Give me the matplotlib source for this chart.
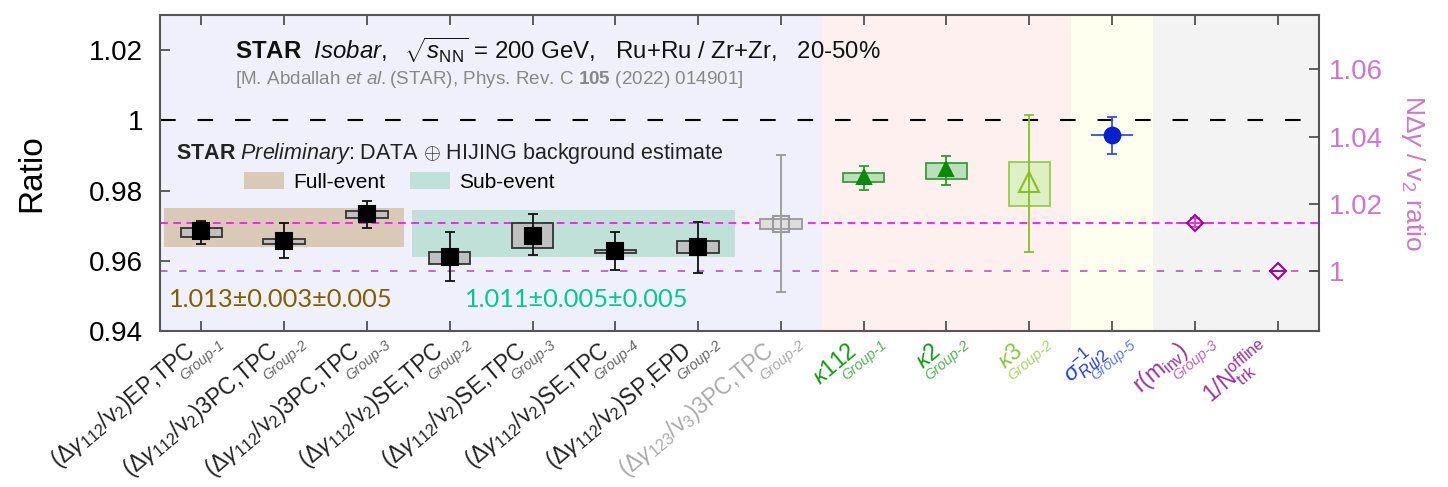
import matplotlib

matplotlib.use("Agg")
import matplotlib.pyplot as plt  # noqa: E402
import matplotlib.transforms as mtransforms  # noqa: E402
import numpy as np  # noqa: E402
from matplotlib.patches import Patch  # noqa: E402

plt.rcParams["font.family"] = ["Liberation Sans", "DejaVu Sans"]
plt.rcParams["mathtext.fontset"] = "custom"
plt.rcParams["mathtext.rm"] = "Liberation Sans"
plt.rcParams["mathtext.it"] = "Liberation Sans:italic"
plt.rcParams["mathtext.bf"] = "Liberation Sans:bold"

# ---- data ----
labels = [
    r"$(\Delta\gamma_{112}/\mathrm{v}_2)$EP,TPC",
    r"$(\Delta\gamma_{112}/\mathrm{v}_2)$3PC,TPC",
    r"$(\Delta\gamma_{112}/\mathrm{v}_2)$3PC,TPC",
    r"$(\Delta\gamma_{112}/\mathrm{v}_2)$SE,TPC",
    r"$(\Delta\gamma_{112}/\mathrm{v}_2)$SE,TPC",
    r"$(\Delta\gamma_{112}/\mathrm{v}_2)$SE,TPC",
    r"$(\Delta\gamma_{112}/\mathrm{v}_2)$SP,EPD",
    r"$(\Delta\gamma_{123}/\mathrm{v}_3)$3PC,TPC",
    r"$\kappa$112",
    r"$\kappa$2",
    r"$\kappa$3",
    r"$\sigma^{-1}_{R\psi2}$",
    r"r(m$_{\mathrm{inv}}$)",
    r"1/N$^{\mathrm{offline}}_{\mathrm{trk}}$",
]
groups = ["Group-1", "Group-2", "Group-3", "Group-2", "Group-3", "Group-4", "Group-2",
          "Group-2", "Group-1", "Group-2", "Group-2", "Group-5", "Group-3", ""]

ratio = [0.9684, 0.9657, 0.9733, 0.9610, 0.9672, 0.9627, 0.9638,
         0.9706, 0.9840, 0.9862, 0.9824, 0.9957, 0.9709, 0.9571]
err_hi = [0.9714, 0.9709, 0.9771, 0.9681, 0.9732, 0.9683, 0.9711,
          0.9900, 0.9870, 0.9898, 1.0016, 1.0010, 0.9722, 0.9571]
err_lo = [0.9649, 0.9607, 0.9692, 0.9543, 0.9616, 0.9573, 0.9566,
          0.9511, 0.9803, 0.9817, 0.9626, 0.9905, 0.9696, 0.9571]
x_half = [0, 0, 0, 0, 0, 0, 0, 0, 0, 0, 0, 0.25, 0.23, 0.1]
# systematic boxes (first 11 points)
sys_lo = [0.9669, 0.9648, 0.9722, 0.9590, 0.9637, 0.9623, 0.9622, 0.9690, 0.9824, 0.9833, 0.9757]
sys_hi = [0.9693, 0.9663, 0.9741, 0.9624, 0.9708, 0.9631, 0.9655, 0.9719, 0.9849, 0.9878, 0.9880]

# combined bands
band_x0 = [-0.45, 2.55]
band_x1 = [2.45, 6.45]
band_lo = [0.9639, 0.9611]
band_hi = [0.9750, 0.9744]
band_names = ["Full-event", "Sub-event"]
band_text = ["1.013\u00b10.003\u00b10.005", "1.011\u00b10.005\u00b10.005"]
band_text_x = [-0.39, 3.18]

region_edges = [-0.5, 7.5, 10.5, 11.5, 13.5]
ref_lines = [0.9709, 0.9571]   # N-dgamma/v2 ratio: r(minv) and unity
right_scale = 0.9571

# ---- styles ----
region_colors = ["#f0f0fc", "#fff0f0", "#fffff0", "#f3f3f3"]
band_colors = ["#dbc9b8", "#c0e1d8"]
band_text_colors = ["#7f5f00", "#00c892"]
main_col = ["#222222"] * 7 + ["#aaaaaa", "#119911", "#119911", "#8cc63f", "#1f3cd6", "#993399", "#993399"]
grp_col = ["#666666"] * 7 + ["#aaaaaa", "#55b455", "#55b455", "#a8d46a", "#5f78e6", "#bb66bb", "#bb66bb"]
mk = ["s"] * 8 + ["^", "^", "^", "o", "D", "D"]
mk_size = [11.3] * 7 + [12, 10.5, 10.5, 14, 11.3, 8.5, 8.5]
mk_face = ["black"] * 7 + ["none", "#0a8a0a", "#0a8a0a", "none", "#0a1fd0", "none", "none"]
mk_edge = ["black"] * 7 + ["#999999", "#0a8a0a", "#0a8a0a", "#88c020", "#0a1fd0", "#990099", "#990099"]
err_col = ["#111111"] * 7 + ["#999999", "#2a9a2a", "#2a9a2a", "#88c020", "#3050e0", "#dd33dd", "#990099"]
box_face = ["#c0c0c0"] * 7 + ["#dedede", "#b9e0b9", "#b9e0b9", "#ddefc4"]
box_edge = ["#333333"] * 7 + ["#999999", "#3a9a3a", "#3a9a3a", "#99cc44"]

fig = plt.figure(figsize=(14.48, 4.87), dpi=100)
ax = fig.add_axes([0.1105, 0.3203, 0.8004, 0.6489])
x = np.arange(len(labels))

for i, c in enumerate(region_colors):
    ax.axvspan(region_edges[i], region_edges[i + 1], color=c, lw=0, zorder=0)

for i in range(len(band_names)):
    ax.fill_between([band_x0[i], band_x1[i]], band_lo[i], band_hi[i],
                    color=band_colors[i], lw=0, zorder=1)

ax.axhline(1.0, color="black", lw=1.5, ls=(0, (7.5, 10.5)), zorder=2)
ax.axhline(ref_lines[0], color="#ff22ff", lw=1.4, ls=(0, (4, 2.8)), zorder=2)
ax.axhline(ref_lines[1], color="#bb55bb", lw=1.2, ls=(0, (4.5, 7)), zorder=2)

nb = len(sys_lo)
ax.bar(x[:nb], np.array(sys_hi) - np.array(sys_lo), bottom=sys_lo, width=0.5,
       color=box_face, edgecolor=box_edge, lw=1.3, zorder=3)

for i in range(len(labels)):
    if err_hi[i] > err_lo[i]:
        yerr = [[ratio[i] - err_lo[i]], [err_hi[i] - ratio[i]]]
        ax.errorbar(x[i], ratio[i], yerr=yerr, fmt="none", ecolor=err_col[i],
                    elinewidth=1.3, capsize=3.5, capthick=1.3, zorder=4)
    if x_half[i]:
        ax.errorbar(x[i], ratio[i], xerr=x_half[i], fmt="none", ecolor=err_col[i],
                    elinewidth=1.3, capsize=0, zorder=4)
    ax.plot(x[i], ratio[i], marker=mk[i], ms=mk_size[i], mfc=mk_face[i], mec=mk_edge[i],
            mew=1.5, ls="none", zorder=5)

ax.set_xlim(-0.5, 13.5)
ax.set_ylim(0.94, 1.03)
ax.set_yticks([0.94, 0.96, 0.98, 1.0, 1.02])
ax.set_yticklabels(["0.94", "0.96", "0.98", "1", "1.02"])
ax.set_xticks(x)
ax.set_xticklabels([])
ax.tick_params(direction="in", length=7, width=1.2, top=True, labelsize=20, pad=12,
               color="#444444")
ax.set_ylabel("Ratio", fontsize=24, labelpad=30)
for s in ax.spines.values():
    s.set_color("#555555")
    s.set_linewidth(1.5)

ax2 = ax.twinx()
ax2.set_ylim(0.94 / right_scale, 1.03 / right_scale)
ax2.set_yticks([1.0, 1.02, 1.04, 1.06])
ax2.set_yticklabels(["1", "1.02", "1.04", "1.06"])
ax2.tick_params(direction="in", length=7, width=1.2, labelsize=20, pad=7,
                color="#444444", labelcolor="#cc77cc")
ax2.set_ylabel(r"N$\Delta\gamma$ / v$_2$ ratio", fontsize=19, color="#cc77cc",
               rotation=270, labelpad=32)
for s in ax2.spines.values():
    s.set_visible(False)

# tilted category labels with a small "Group" subscript
base = ax.get_xaxis_transform()
for i in range(len(labels)):
    t_main = base + mtransforms.ScaledTranslation(-0.05, -0.22, fig.dpi_scale_trans)
    ax.text(x[i], 0, labels[i], transform=t_main, rotation=40, rotation_mode="anchor",
            ha="right", va="baseline", fontsize=16.5, color=main_col[i], clip_on=False)
    if groups[i]:
        t_grp = base + mtransforms.ScaledTranslation(-0.17, -0.50, fig.dpi_scale_trans)
        ax.text(x[i], 0, groups[i], transform=t_grp, rotation=40, rotation_mode="anchor",
                ha="left", va="baseline", fontsize=10.5, style="italic", color=grp_col[i],
                clip_on=False)

# header texts
ax.text(0.41, 1.02, r"$\mathbf{STAR}$  $\mathit{Isobar,}$  $\sqrt{s_{\mathrm{NN}}}$ = 200 GeV,"
        "   Ru+Ru / Zr+Zr,   20-50%", fontsize=17.3, va="center", color="#111111")
ax.text(0.41, 1.0117, r"[M. Abdallah $\mathit{et\ al.}$(STAR), Phys. Rev. C $\mathbf{105}$ (2022) 014901]",
        fontsize=13.6, va="center", color="#888888")
ax.text(-0.31, 0.9906, r"$\mathbf{STAR}$ $\mathit{Preliminary}$: DATA $\oplus$ HIJING background estimate",
        fontsize=15.5, va="center", color="#222222")

handles = [Patch(facecolor=band_colors[i], edgecolor="none") for i in range(len(band_names))]
ax.legend(handles, band_names, loc="center left", bbox_to_anchor=(0.0725, 0.4715), ncol=2,
          frameon=False, fontsize=15, handlelength=1.9, handleheight=0.85, handletextpad=0.45,
          columnspacing=1.2, borderpad=0, borderaxespad=0)

for i in range(len(band_text)):
    ax.text(band_text_x[i], 0.9491, band_text[i], fontsize=18.3, family=["Lato", "DejaVu Sans"],
            color=band_text_colors[i], va="center")

fig.savefig("out.png", dpi=100)
